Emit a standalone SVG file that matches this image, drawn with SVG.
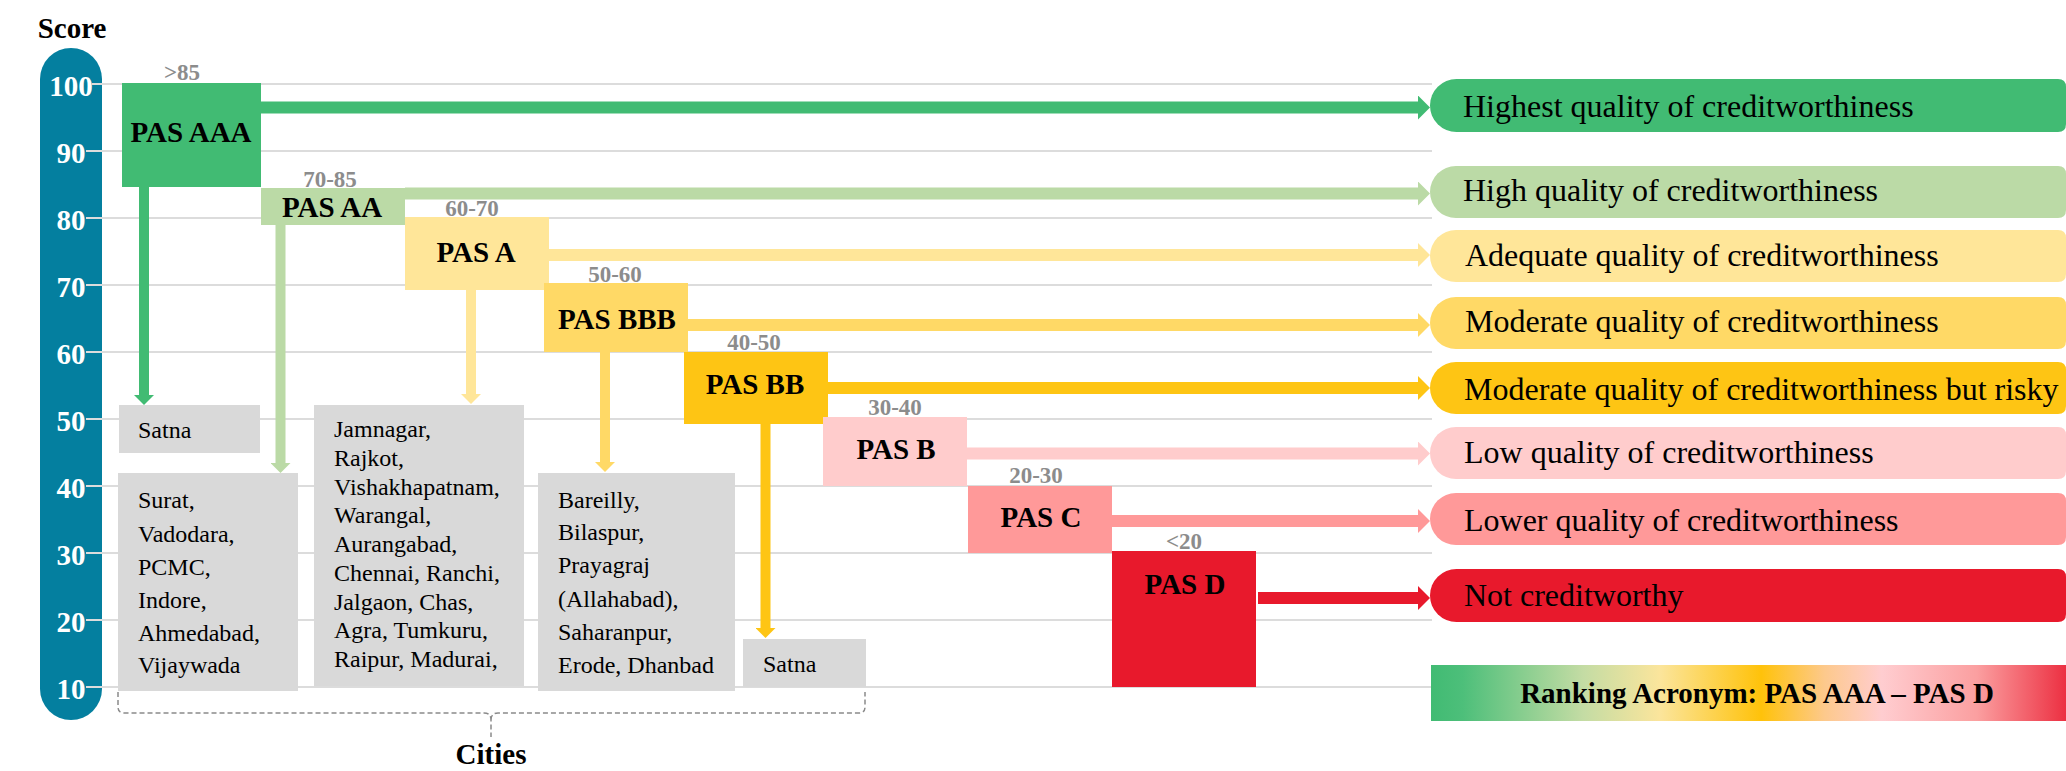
<svg xmlns="http://www.w3.org/2000/svg" width="2066" height="771" viewBox="0 0 2066 771">
<style>
text{font-family:"Liberation Serif","Times New Roman",serif}
.ax{font-size:29px;font-weight:bold;fill:#fff;text-anchor:middle}
.ttl{font-size:29px;font-weight:bold;fill:#000;text-anchor:middle}
.lbl{font-size:29px;font-weight:bold;fill:#000;text-anchor:middle}
.rng{font-size:23px;font-weight:bold;fill:#8c8c8c;text-anchor:middle}
.city{font-size:24px;fill:#000}
.desc{font-size:32px;fill:#000}
.grid{stroke:#dcdcdc;stroke-width:2}
.cbox{fill:#d9d9d9}
.h{fill:none;stroke-width:12}
.v{fill:none;stroke-width:10}
.brace{fill:none;stroke:#8a8a8a;stroke-width:1.5;stroke-dasharray:5 3}
</style>
<defs>
<marker id="m-aaa" viewBox="0 0 10 20" refX="0" refY="10" markerWidth="1" markerHeight="2" orient="auto"><path d="M0,0 L10,10 L0,20 Z" fill="#41bb73"/></marker>
<marker id="m-aa" viewBox="0 0 10 20" refX="0" refY="10" markerWidth="1" markerHeight="2" orient="auto"><path d="M0,0 L10,10 L0,20 Z" fill="#bbdaa6"/></marker>
<marker id="m-a" viewBox="0 0 10 20" refX="0" refY="10" markerWidth="1" markerHeight="2" orient="auto"><path d="M0,0 L10,10 L0,20 Z" fill="#ffe699"/></marker>
<marker id="m-bbb" viewBox="0 0 10 20" refX="0" refY="10" markerWidth="1" markerHeight="2" orient="auto"><path d="M0,0 L10,10 L0,20 Z" fill="#ffd966"/></marker>
<marker id="m-bb" viewBox="0 0 10 20" refX="0" refY="10" markerWidth="1" markerHeight="2" orient="auto"><path d="M0,0 L10,10 L0,20 Z" fill="#fec514"/></marker>
<marker id="m-b" viewBox="0 0 10 20" refX="0" refY="10" markerWidth="1" markerHeight="2" orient="auto"><path d="M0,0 L10,10 L0,20 Z" fill="#ffcccc"/></marker>
<marker id="m-c" viewBox="0 0 10 20" refX="0" refY="10" markerWidth="1" markerHeight="2" orient="auto"><path d="M0,0 L10,10 L0,20 Z" fill="#ff9999"/></marker>
<marker id="m-d" viewBox="0 0 10 20" refX="0" refY="10" markerWidth="1" markerHeight="2" orient="auto"><path d="M0,0 L10,10 L0,20 Z" fill="#e8192c"/></marker>
<linearGradient id="rankgrad" x1="0" y1="0" x2="1" y2="0">
<stop offset="0" stop-color="#41bb73"/>
<stop offset="0.05" stop-color="#4dbf7a"/>
<stop offset="0.24" stop-color="#c4dca4"/>
<stop offset="0.36" stop-color="#fbe59c"/>
<stop offset="0.52" stop-color="#ffc20a"/>
<stop offset="0.62" stop-color="#fdc98c"/>
<stop offset="0.71" stop-color="#ffcdd0"/>
<stop offset="0.86" stop-color="#fb9fa0"/>
<stop offset="1" stop-color="#ec3042"/>
</linearGradient>
</defs>

<g id="axis">
<text class="ttl" x="72" y="38">Score</text>
<rect x="40" y="48" width="62" height="672" rx="31" fill="#047f9f"/>
<g>
<line class="grid" x1="92" y1="84" x2="1432" y2="84"/>
<line class="grid" x1="86" y1="151" x2="1432" y2="151"/>
<line class="grid" x1="86" y1="218" x2="1432" y2="218"/>
<line class="grid" x1="86" y1="285" x2="1432" y2="285"/>
<line class="grid" x1="86" y1="352" x2="1432" y2="352"/>
<line class="grid" x1="86" y1="419" x2="1432" y2="419"/>
<line class="grid" x1="86" y1="486" x2="1432" y2="486"/>
<line class="grid" x1="86" y1="553" x2="1432" y2="553"/>
<line class="grid" x1="86" y1="620" x2="1432" y2="620"/>
<line class="grid" x1="86" y1="687" x2="1432" y2="687"/>
</g>
<text class="ax" x="71" y="96">100</text>
<text class="ax" x="71" y="163">90</text>
<text class="ax" x="71" y="230">80</text>
<text class="ax" x="71" y="297">70</text>
<text class="ax" x="71" y="364">60</text>
<text class="ax" x="71" y="431">50</text>
<text class="ax" x="71" y="498">40</text>
<text class="ax" x="71" y="565">30</text>
<text class="ax" x="71" y="632">20</text>
<text class="ax" x="71" y="699">10</text>
</g>

<g id="connectors">
<line class="h" x1="261" y1="107.5" x2="1418" y2="107.5" stroke="#41bb73" marker-end="url(#m-aaa)"/>
<line class="h" x1="405" y1="193.5" x2="1418" y2="193.5" stroke="#bbdaa6" marker-end="url(#m-aa)"/>
<line class="h" x1="549" y1="255" x2="1418" y2="255" stroke="#ffe699" marker-end="url(#m-a)"/>
<line class="h" x1="688" y1="325" x2="1418" y2="325" stroke="#ffd966" marker-end="url(#m-bbb)"/>
<line class="h" x1="828" y1="388" x2="1418" y2="388" stroke="#fec514" marker-end="url(#m-bb)"/>
<line class="h" x1="967" y1="453.5" x2="1418" y2="453.5" stroke="#ffcccc" marker-end="url(#m-b)"/>
<line class="h" x1="1112" y1="521" x2="1418" y2="521" stroke="#ff9999" marker-end="url(#m-c)"/>
<line class="h" x1="1258" y1="598" x2="1418" y2="598" stroke="#e8192c" marker-end="url(#m-d)"/>
<line class="v" x1="144" y1="187" x2="144" y2="395" stroke="#41bb73" marker-end="url(#m-aaa)"/>
<line class="v" x1="280.5" y1="225" x2="280.5" y2="463" stroke="#bbdaa6" marker-end="url(#m-aa)"/>
<line class="v" x1="471" y1="290" x2="471" y2="394" stroke="#ffe699" marker-end="url(#m-a)"/>
<line class="v" x1="605" y1="352" x2="605" y2="462" stroke="#ffd966" marker-end="url(#m-bbb)"/>
<line class="v" x1="765.5" y1="424" x2="765.5" y2="628" stroke="#fec514" marker-end="url(#m-bb)"/>
</g>

<g id="pas-aaa"><text class="rng" x="182" y="80">&gt;85</text><rect x="122" y="83" width="139" height="104" fill="#41bb73"/><text class="lbl" x="191" y="142">PAS AAA</text></g>
<g id="pas-aa"><text class="rng" x="330" y="187">70-85</text><rect x="261" y="188" width="144" height="37" fill="#bbdaa6"/><text class="lbl" x="332" y="217">PAS AA</text></g>
<g id="pas-a"><text class="rng" x="472" y="216">60-70</text><rect x="405" y="217" width="144" height="73" fill="#ffe699"/><text class="lbl" x="476" y="262">PAS A</text></g>
<g id="pas-bbb"><text class="rng" x="615" y="282">50-60</text><rect x="544" y="283" width="144" height="69" fill="#ffd966"/><text class="lbl" x="617" y="329">PAS BBB</text></g>
<g id="pas-bb"><text class="rng" x="754" y="350">40-50</text><rect x="684" y="352" width="144" height="72" fill="#fec514"/><text class="lbl" x="755" y="394">PAS BB</text></g>
<g id="pas-b"><text class="rng" x="895" y="415">30-40</text><rect x="823" y="417" width="144" height="69" fill="#ffcccc"/><text class="lbl" x="896" y="459">PAS B</text></g>
<g id="pas-c"><text class="rng" x="1036" y="483">20-30</text><rect x="968" y="486" width="144" height="67" fill="#ff9999"/><text class="lbl" x="1041" y="527">PAS C</text></g>
<g id="pas-d"><text class="rng" x="1184" y="549">&lt;20</text><rect x="1112" y="551" width="144" height="136" fill="#e8192c"/><text class="lbl" x="1185" y="594">PAS D</text></g>

<g id="cities-aaa"><rect class="cbox" x="119" y="405" width="141" height="48"/><text class="city" x="138" y="438">Satna</text></g>
<g id="cities-aa"><rect class="cbox" x="118" y="473" width="180" height="218"/>
<text class="city" x="138" y="508">Surat,</text><text class="city" x="138" y="542">Vadodara,</text><text class="city" x="138" y="575">PCMC,</text><text class="city" x="138" y="608">Indore,</text><text class="city" x="138" y="641">Ahmedabad,</text><text class="city" x="138" y="673">Vijaywada</text></g>
<g id="cities-a"><rect class="cbox" x="314" y="405" width="210" height="281"/>
<text class="city" x="334" y="437">Jamnagar,</text><text class="city" x="334" y="466">Rajkot,</text><text class="city" x="334" y="495">Vishakhapatnam,</text><text class="city" x="334" y="523">Warangal,</text><text class="city" x="334" y="552">Aurangabad,</text><text class="city" x="334" y="581">Chennai, Ranchi,</text><text class="city" x="334" y="610">Jalgaon, Chas,</text><text class="city" x="334" y="638">Agra, Tumkuru,</text><text class="city" x="334" y="667">Raipur, Madurai,</text></g>
<g id="cities-bbb"><rect class="cbox" x="538" y="473" width="197" height="218"/>
<text class="city" x="558" y="508">Bareilly,</text><text class="city" x="558" y="540">Bilaspur,</text><text class="city" x="558" y="573">Prayagraj</text><text class="city" x="558" y="607">(Allahabad),</text><text class="city" x="558" y="640">Saharanpur,</text><text class="city" x="558" y="673">Erode, Dhanbad</text></g>
<g id="cities-bb"><rect class="cbox" x="743" y="639" width="123" height="48"/><text class="city" x="763" y="672">Satna</text></g>

<g id="cities-brace">
<path class="brace" d="M118,692 V707 Q118,713 124,713 H484 Q491,713 491,720 V737 M491,720 Q491,713 498,713 H859 Q865,713 865,707 V692"/>
<text class="ttl" x="491" y="764">Cities</text>
</g>

<g id="desc-aaa"><path d="M1456.5,79 H2058 Q2066,79 2066,87 V124 Q2066,132 2058,132 H1456.5 A26.5,26.5 0 0 1 1456.5,79 Z" fill="#41bb73"/><text class="desc" x="1463" y="117">Highest quality of creditworthiness</text></g>
<g id="desc-aa"><path d="M1456,166 H2058 Q2066,166 2066,174 V210 Q2066,218 2058,218 H1456 A26,26 0 0 1 1456,166 Z" fill="#bbdaa6"/><text class="desc" x="1463" y="201">High quality of creditworthiness</text></g>
<g id="desc-a"><path d="M1456,230 H2058 Q2066,230 2066,238 V274 Q2066,282 2058,282 H1456 A26,26 0 0 1 1456,230 Z" fill="#ffe699"/><text class="desc" x="1465" y="266">Adequate quality of creditworthiness</text></g>
<g id="desc-bbb"><path d="M1456,297 H2058 Q2066,297 2066,305 V341 Q2066,349 2058,349 H1456 A26,26 0 0 1 1456,297 Z" fill="#ffd966"/><text class="desc" x="1465" y="332">Moderate quality of creditworthiness</text></g>
<g id="desc-bb"><path d="M1456,362 H2058 Q2066,362 2066,370 V406 Q2066,414 2058,414 H1456 A26,26 0 0 1 1456,362 Z" fill="#fec514"/><text class="desc" x="1464" y="400">Moderate quality of creditworthiness but risky</text></g>
<g id="desc-b"><path d="M1456,427 H2058 Q2066,427 2066,435 V471 Q2066,479 2058,479 H1456 A26,26 0 0 1 1456,427 Z" fill="#ffcccc"/><text class="desc" x="1464" y="463">Low quality of creditworthiness</text></g>
<g id="desc-c"><path d="M1456,493 H2058 Q2066,493 2066,501 V537 Q2066,545 2058,545 H1456 A26,26 0 0 1 1456,493 Z" fill="#ff9999"/><text class="desc" x="1464" y="531">Lower quality of creditworthiness</text></g>
<g id="desc-d"><path d="M1456.5,569 H2058 Q2066,569 2066,577 V614 Q2066,622 2058,622 H1456.5 A26.5,26.5 0 0 1 1456.5,569 Z" fill="#e8192c"/><text class="desc" x="1464" y="606">Not creditworthy</text></g>

<g id="ranking-legend"><rect x="1431" y="665" width="635" height="56" fill="url(#rankgrad)"/><text class="ttl" x="1757" y="703">Ranking Acronym: PAS AAA – PAS D</text></g>
</svg>
